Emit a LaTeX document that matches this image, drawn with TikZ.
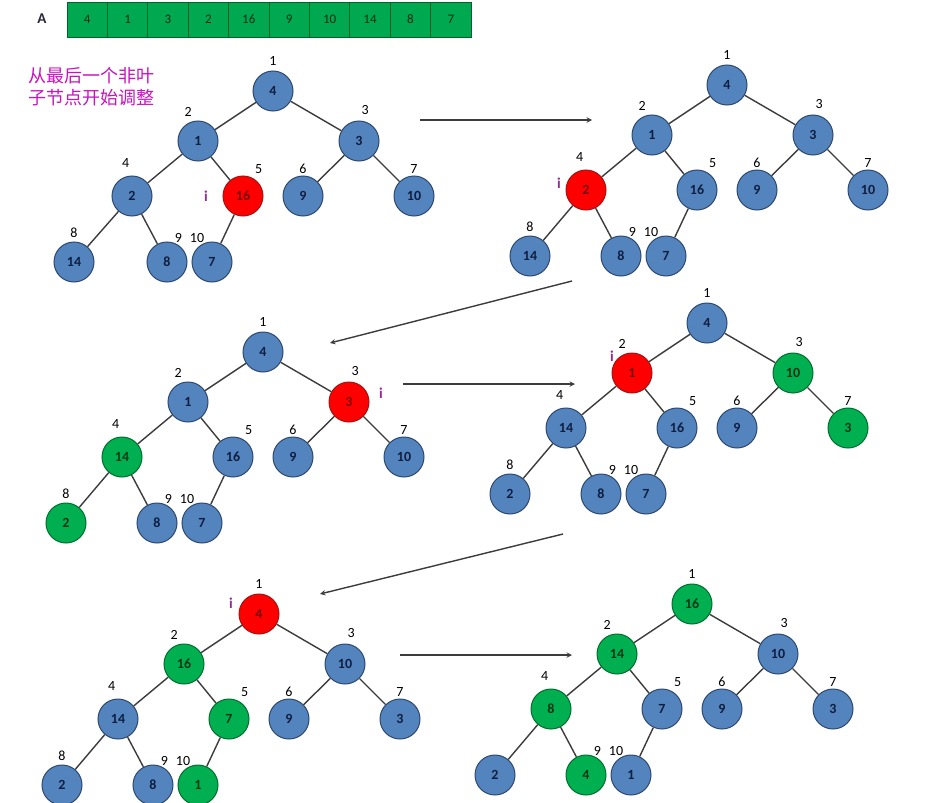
\documentclass[tikz,border=0pt]{standalone}
\usepackage{fontspec}
\setmainfont{Carlito}
\newfontfamily\cjk{Noto Sans CJK SC}
\usetikzlibrary{positioning}
\definecolor{heapblue}{RGB}{84,132,190}
\definecolor{heapblueline}{RGB}{45,72,110}
\definecolor{heapred}{RGB}{255,0,0}
\definecolor{heapredline}{RGB}{160,20,20}
\definecolor{heapgreen}{RGB}{0,176,80}
\definecolor{heapgreenline}{RGB}{0,110,45}
\definecolor{notepink}{RGB}{200,20,190}
\definecolor{ipurple}{RGB}{150,40,150}
\definecolor{edgegray}{RGB}{60,60,60}
\tikzstyle{hnode}=[draw,circle,line width=1pt,minimum size=40pt,inner sep=0pt,
  font=\fontsize{14pt}{16pt}\selectfont\bfseries]
\tikzstyle{bnode}=[hnode,fill=heapblue,draw=heapblueline,text={rgb,255:red,15;green,30;blue,65}]
\tikzstyle{rnode}=[hnode,fill=heapred,draw=heapredline,text={rgb,255:red,120;green,0;blue,0}]
\tikzstyle{gnode}=[hnode,fill=heapgreen,draw=heapgreenline,text={rgb,255:red,0;green,55;blue,20}]
\tikzstyle{idx}=[inner sep=0pt,font=\fontsize{14pt}{16pt}\selectfont]
\tikzstyle{ix1}=[label={[idx,label distance=5pt]90:1}]
\tikzstyle{ix2}=[label={[idx,label distance=5pt]104:2}]
\tikzstyle{ix3}=[label={[idx,label distance=6pt]85:3}]
\tikzstyle{ix4}=[label={[idx,label distance=8pt]95:4}]
\tikzstyle{ix5}=[label={[idx,label distance=5pt]62:5}]
\tikzstyle{ix6}=[label={[idx,label distance=2pt]90:6}]
\tikzstyle{ix7}=[label={[idx,label distance=2pt]90:7}]
\tikzstyle{ix8}=[label={[idx,label distance=4pt]90:8}]
\tikzstyle{ix9}=[label={[idx,label distance=0pt]68:9}]
\tikzstyle{ix10}=[label={[idx,label distance=0pt]112:10}]
\tikzstyle{imark}=[inner sep=0pt,text=ipurple,font=\fontsize{15pt}{17pt}\selectfont\bfseries]
\tikzstyle{edge}=[draw=edgegray,line width=1.4pt]
\tikzstyle{flow}=[->,draw=edgegray,line width=1.4pt]
\tikzstyle{cell}=[draw={rgb,255:red,0;green,100;blue,40},fill={rgb,255:red,0;green,168;blue,80},
  line width=0.8pt,minimum width=40.4pt,minimum height=35pt,inner sep=0pt,
  font=\fontsize{13pt}{15pt}\selectfont,text={rgb,255:red,10;green,45;blue,20}]

\begin{document}
\begin{tikzpicture}[x=1pt, y=-1pt, >=stealth, node distance=40.4pt, on grid]
  \useasboundingbox (0,0) rectangle (943,803);
  \fill[white] (0,0) rectangle (943,803);

  % the array
  \node[font=\fontsize{15pt}{17pt}\selectfont\bfseries,text={rgb,255:red,40;green,40;blue,60}] (alabel) at (42,19) {A};
  \node[cell] (c1) at (87.2,19.5) {4};
  \node[cell, right=of c1] (c2) {1};
  \node[cell, right=of c2] (c3) {3};
  \node[cell, right=of c3] (c4) {2};
  \node[cell, right=of c4] (c5) {16};
  \node[cell, right=of c5] (c6) {9};
  \node[cell, right=of c6] (c7) {10};
  \node[cell, right=of c7] (c8) {14};
  \node[cell, right=of c8] (c9) {8};
  \node[cell, right=of c9] (c10) {7};

  \node[text=notepink, align=left, font=\cjk\fontsize{18pt}{22pt}\selectfont] (note) at (91,87)
    {从最后一个非叶\\子节点开始调整};

  % tree 1
  \begin{scope}[shift={(273,91)}]
    \node[bnode, ix1] (a1) at (0,0) {4};
    \node[bnode, ix2] (a2) at (-75,50) {1};
    \node[bnode, ix3] (a3) at (86,50) {3};
    \node[bnode, ix4] (a4) at (-141,105) {2};
    \node[rnode, ix5] (a5) at (-30,105) {16};
    \node[bnode, ix6] (a6) at (30,105) {9};
    \node[bnode, ix7] (a7) at (141,105) {10};
    \node[bnode, ix8] (a8) at (-199,171) {14};
    \node[bnode, ix9] (a9) at (-106,171) {8};
    \node[bnode, ix10] (a10) at (-61,171) {7};
    \node[imark] (i1) at (-67,105) {i};
  \end{scope}
  \draw[edge] (a1) -- (a2) (a1) -- (a3) (a2) -- (a4) (a2) -- (a5) (a3) -- (a6)
    (a3) -- (a7) (a4) -- (a8) (a4) -- (a9) (a5) -- (a10);

  % tree 2
  \begin{scope}[shift={(727,85)}]
    \node[bnode, ix1] (b1) at (0,0) {4};
    \node[bnode, ix2] (b2) at (-75,50) {1};
    \node[bnode, ix3] (b3) at (86,50) {3};
    \node[rnode, ix4] (b4) at (-141,105) {2};
    \node[bnode, ix5] (b5) at (-30,105) {16};
    \node[bnode, ix6] (b6) at (30,105) {9};
    \node[bnode, ix7] (b7) at (141,105) {10};
    \node[bnode, ix8] (b8) at (-197,171) {14};
    \node[bnode, ix9] (b9) at (-106,171) {8};
    \node[bnode, ix10] (b10) at (-61,171) {7};
    \node[imark] (i2) at (-168,98) {i};
  \end{scope}
  \draw[edge] (b1) -- (b2) (b1) -- (b3) (b2) -- (b4) (b2) -- (b5) (b3) -- (b6)
    (b3) -- (b7) (b4) -- (b8) (b4) -- (b9) (b5) -- (b10);

  % tree 3
  \begin{scope}[shift={(263,352)}]
    \node[bnode, ix1] (c1) at (0,0) {4};
    \node[bnode, ix2] (c2) at (-75,50) {1};
    \node[rnode, ix3] (c3) at (86,50) {3};
    \node[gnode, ix4] (c4) at (-141,105) {14};
    \node[bnode, ix5] (c5) at (-30,105) {16};
    \node[bnode, ix6] (c6) at (30,105) {9};
    \node[bnode, ix7] (c7) at (141,105) {10};
    \node[gnode, ix8] (c8) at (-197,171) {2};
    \node[bnode, ix9] (c9) at (-106,171) {8};
    \node[bnode, ix10] (c10) at (-61,171) {7};
    \node[imark] (i3) at (118,41) {i};
  \end{scope}
  \draw[edge] (c1) -- (c2) (c1) -- (c3) (c2) -- (c4) (c2) -- (c5) (c3) -- (c6)
    (c3) -- (c7) (c4) -- (c8) (c4) -- (c9) (c5) -- (c10);

  % tree 4
  \begin{scope}[shift={(707,323)}]
    \node[bnode, ix1] (d1) at (0,0) {4};
    \node[rnode, ix2] (d2) at (-75,50) {1};
    \node[gnode, ix3] (d3) at (86,50) {10};
    \node[bnode, ix4] (d4) at (-141,105) {14};
    \node[bnode, ix5] (d5) at (-30,105) {16};
    \node[bnode, ix6] (d6) at (30,105) {9};
    \node[gnode, ix7] (d7) at (141,105) {3};
    \node[bnode, ix8] (d8) at (-197,171) {2};
    \node[bnode, ix9] (d9) at (-106,171) {8};
    \node[bnode, ix10] (d10) at (-61,171) {7};
    \node[imark] (i4) at (-95,33) {i};
  \end{scope}
  \draw[edge] (d1) -- (d2) (d1) -- (d3) (d2) -- (d4) (d2) -- (d5) (d3) -- (d6)
    (d3) -- (d7) (d4) -- (d8) (d4) -- (d9) (d5) -- (d10);

  % tree 5
  \begin{scope}[shift={(259,614)}]
    \node[rnode, ix1] (e1) at (0,0) {4};
    \node[gnode, ix2] (e2) at (-75,50) {16};
    \node[bnode, ix3] (e3) at (86,50) {10};
    \node[bnode, ix4] (e4) at (-141,105) {14};
    \node[gnode, ix5] (e5) at (-30,105) {7};
    \node[bnode, ix6] (e6) at (30,105) {9};
    \node[bnode, ix7] (e7) at (141,105) {3};
    \node[bnode, ix8] (e8) at (-197,171) {2};
    \node[bnode, ix9] (e9) at (-106,171) {8};
    \node[gnode, ix10] (e10) at (-61,171) {1};
    \node[imark] (i5) at (-28,-11) {i};
  \end{scope}
  \draw[edge] (e1) -- (e2) (e1) -- (e3) (e2) -- (e4) (e2) -- (e5) (e3) -- (e6)
    (e3) -- (e7) (e4) -- (e8) (e4) -- (e9) (e5) -- (e10);

  % tree 6
  \begin{scope}[shift={(692,604)}]
    \node[gnode, ix1] (f1) at (0,0) {16};
    \node[gnode, ix2] (f2) at (-75,50) {14};
    \node[bnode, ix3] (f3) at (86,50) {10};
    \node[gnode, ix4] (f4) at (-141,105) {8};
    \node[bnode, ix5] (f5) at (-30,105) {7};
    \node[bnode, ix6] (f6) at (30,105) {9};
    \node[bnode, ix7] (f7) at (141,105) {3};
    \node[bnode] (f8) at (-197,171) {2};
    \node[gnode, ix9] (f9) at (-106,171) {4};
    \node[bnode, ix10] (f10) at (-61,171) {1};
  \end{scope}
  \draw[edge] (f1) -- (f2) (f1) -- (f3) (f2) -- (f4) (f2) -- (f5) (f3) -- (f6)
    (f3) -- (f7) (f4) -- (f8) (f4) -- (f9) (f5) -- (f10);

  % steps
  \coordinate (s1) at (420,120);  \coordinate (t1) at (592,120);
  \coordinate (s2) at (572,281);  \coordinate (t2) at (330,343);
  \coordinate (s3) at (403,384);  \coordinate (t3) at (575,384);
  \coordinate (s4) at (563,534);  \coordinate (t4) at (320,594);
  \coordinate (s5) at (400,655);  \coordinate (t5) at (572,655);
  \draw[flow] (s1) -- (t1);
  \draw[flow] (s2) -- (t2);
  \draw[flow] (s3) -- (t3);
  \draw[flow] (s4) -- (t4);
  \draw[flow] (s5) -- (t5);
\end{tikzpicture}
\end{document}
